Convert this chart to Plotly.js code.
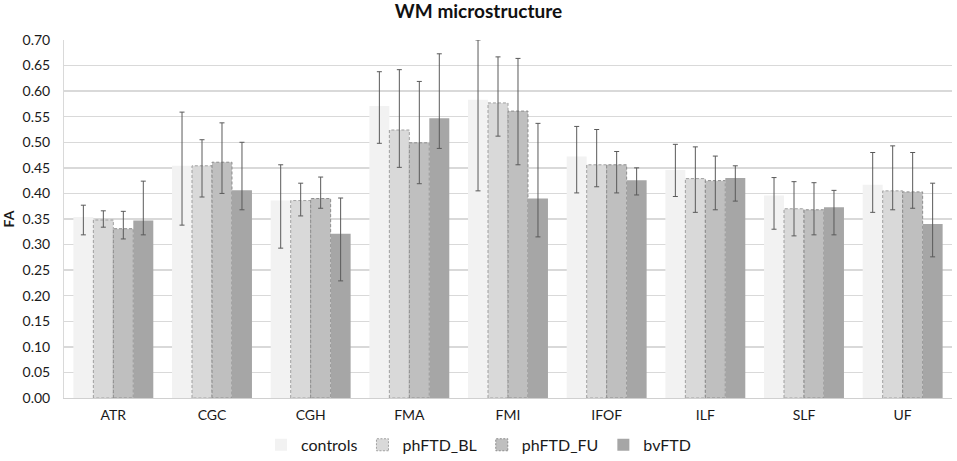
<!DOCTYPE html>
<html>
<head>
<meta charset="utf-8">
<script src="https://cdn.plot.ly/plotly-3.0.1.min.js"></script>
<style>
html,body{margin:0;padding:0;background:#fff;}
#chart{width:957px;height:461px;}
.barlayer .trace:nth-child(2) .point path,
.barlayer .trace:nth-child(3) .point path{stroke-dasharray:3,2 !important;}
</style>
</head>
<body>
<div id="chart"></div>
<script>
var categories = ["ATR","CGC","CGH","FMA","FMI","IFOF","ILF","SLF","UF"];
var seriesNames = ["controls","phFTD_BL","phFTD_FU","bvFTD"];

var controls     = [0.354, 0.454, 0.386, 0.571, 0.583, 0.472, 0.446, 0.396, 0.417];
var controlsHi   = [0.377, 0.559, 0.456, 0.638, 0.700, 0.531, 0.496, 0.431, 0.480];
var controlsLo   = [0.319, 0.338, 0.293, 0.498, 0.405, 0.401, 0.394, 0.330, 0.363];

var phFTD_BL     = [0.348, 0.454, 0.386, 0.524, 0.577, 0.456, 0.429, 0.370, 0.405];
var phFTD_BLHi   = [0.366, 0.505, 0.420, 0.642, 0.667, 0.525, 0.491, 0.423, 0.493];
var phFTD_BLLo   = [0.334, 0.393, 0.356, 0.451, 0.512, 0.413, 0.363, 0.317, 0.368];

var phFTD_FU     = [0.331, 0.461, 0.390, 0.499, 0.561, 0.456, 0.425, 0.368, 0.403];
var phFTD_FUHi   = [0.365, 0.538, 0.432, 0.619, 0.664, 0.482, 0.473, 0.421, 0.480];
var phFTD_FULo   = [0.311, 0.400, 0.371, 0.419, 0.456, 0.401, 0.368, 0.319, 0.371];

var bvFTD        = [0.347, 0.406, 0.321, 0.547, 0.390, 0.426, 0.430, 0.373, 0.340];
var bvFTDHi      = [0.424, 0.500, 0.391, 0.673, 0.537, 0.450, 0.454, 0.406, 0.420];
var bvFTDLo      = [0.319, 0.368, 0.229, 0.488, 0.315, 0.397, 0.385, 0.319, 0.276];

var values = [controls, phFTD_BL, phFTD_FU, bvFTD];
var highs  = [controlsHi, phFTD_BLHi, phFTD_FUHi, bvFTDHi];
var lows   = [controlsLo, phFTD_BLLo, phFTD_FULo, bvFTDLo];

var fills   = ["#f2f2f2","#d9d9d9","#bfbfbf","#a6a6a6"];
var borders = ["#f2f2f2","#a0a0a0","#8c8c8c","#a6a6a6"];
var bw      = [0, 1, 1, 0];

var traces = values.map(function(v, i){
  return {
    type: "bar",
    name: seriesNames[i],
    x: categories,
    y: v,
    marker: {color: fills[i], line: {color: borders[i], width: bw[i]}},
    error_y: {
      type: "data", symmetric: false,
      array: v.map(function(val, j){ return +(highs[i][j] - val).toFixed(3); }),
      arrayminus: v.map(function(val, j){ return +(val - lows[i][j]).toFixed(3); }),
      color: "#5a5a5a", thickness: 1, width: 2.5
    },
    hoverinfo: "x+y+name"
  };
});

var font = "Lato, 'Open Sans', sans-serif";
var layout = {
  width: 957, height: 461,
  margin: {l: 64, r: 5, t: 40, b: 63, autoexpand: false},
  paper_bgcolor: "#fff", plot_bgcolor: "#fff",
  font: {family: font, size: 14, color: "#1a1a1a"},
  title: {text: "<b>WM microstructure</b>", x: 0.5, xanchor: "center", y: 0.99, yanchor: "top",
          font: {family: font, size: 19, color: "#111"}},
  barmode: "group", bargap: 0.19, bargroupgap: 0,
  xaxis: {
    showgrid: false, showline: true, linecolor: "#d0d0d0", linewidth: 1,
    ticks: "", tickfont: {size: 14}, ticklabelstandoff: 4, automargin: false
  },
  yaxis: {
    range: [0, 0.70], dtick: 0.05, tickformat: ".2f",
    showgrid: true, gridcolor: "#d9d9d9", gridwidth: 1.3,
    showline: true, linecolor: "#d9d9d9", linewidth: 1,
    zeroline: false, ticks: "", tickfont: {size: 14}, ticklabelstandoff: 10, automargin: false,
    title: {text: "<b>FA</b>", font: {size: 14}, standoff: 12}
  },
  legend: {
    orientation: "h", x: 0.5, xanchor: "center", xref: "container",
    y: 0.035, yanchor: "middle", yref: "container",
    font: {size: 16}, itemwidth: 30, traceorder: "normal"
  },
  showlegend: true
};

Plotly.newPlot("chart", traces, layout, {displayModeBar: false, staticPlot: true}).then(function(){
  var items = document.querySelectorAll(".legend .traces");
  [1,2].forEach(function(k){
    if (items[k]) {
      var p = items[k].querySelector("path");
      if (p) p.style.strokeDasharray = "2,1.5";
    }
  });
});
</script>
</body>
</html>
